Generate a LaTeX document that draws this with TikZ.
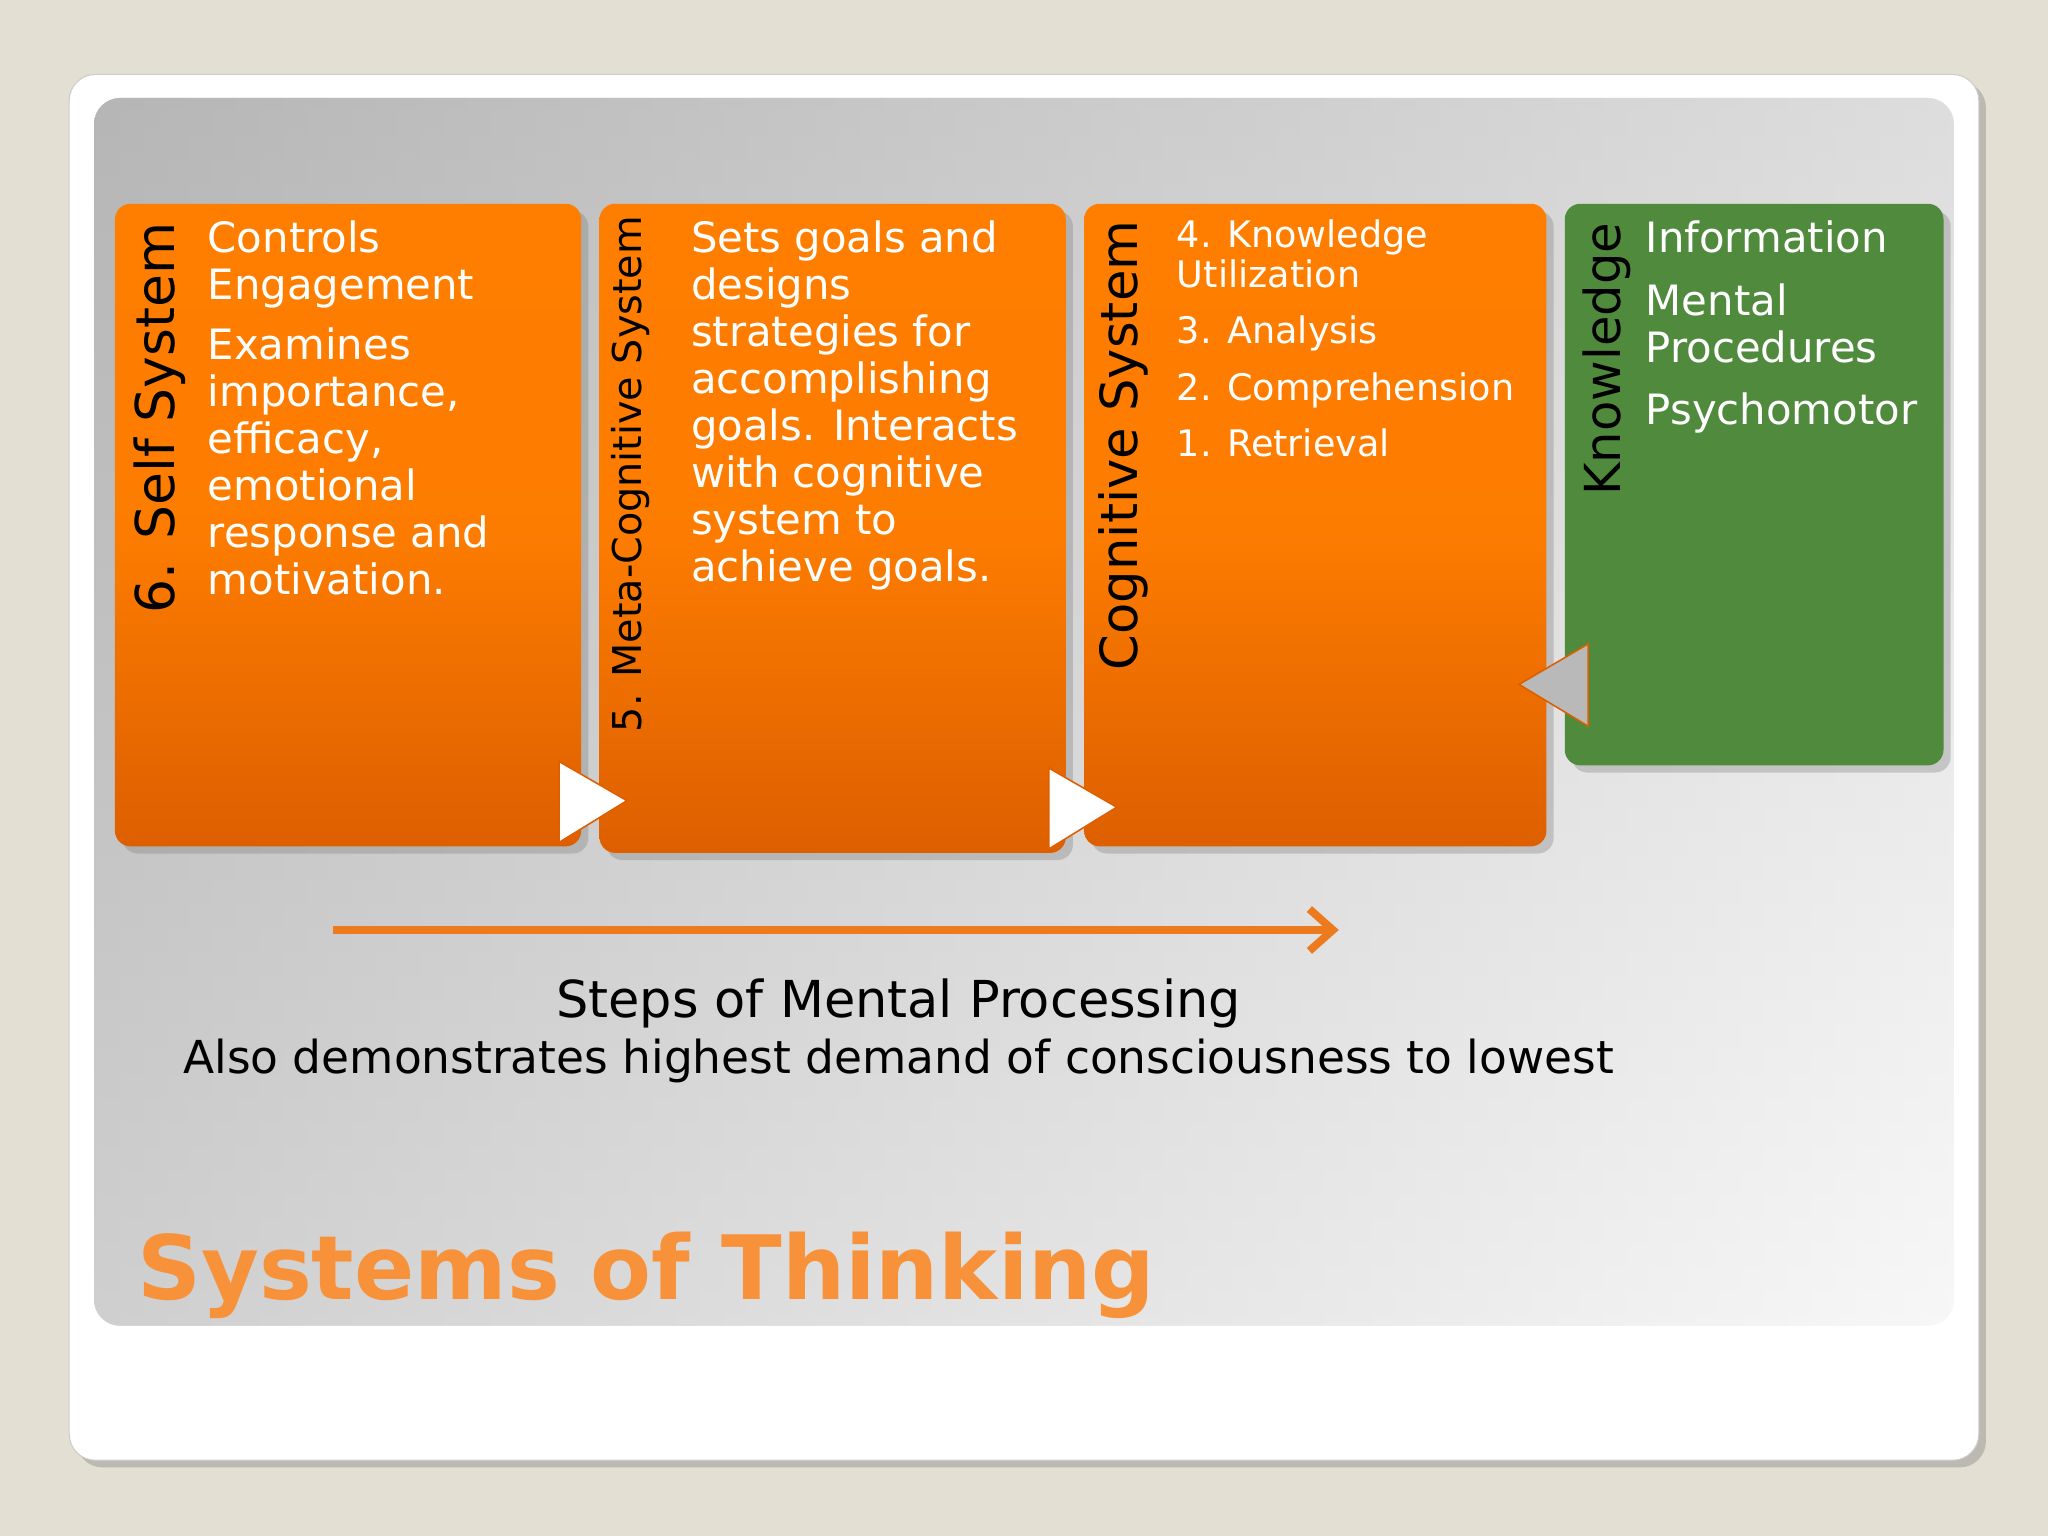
\documentclass[tikz,border=0pt]{standalone}
\usepackage{fontspec}
\setmainfont{DejaVu Sans}
\usetikzlibrary{shadows,arrows.meta}
\definecolor{bg}{HTML}{E3DFD3}
\definecolor{org}{HTML}{FF7E00}
\definecolor{orgd}{HTML}{DD5F00}
\definecolor{grn}{HTML}{4F8A3D}
\definecolor{ttl}{HTML}{F7923A}
\definecolor{arr}{HTML}{EE7A1E}
\tikzset{
 obox/.style={rounded corners=6pt,top color=org,bottom color=orgd,middle color=org!95!orgd,draw=none,drop shadow={opacity=0.35}},
 body/.style={anchor=north west,align=left,text=white,font=\fontsize{16}{18}\selectfont},
 vlab/.style={rotate=90,anchor=center},
 tri/.style={fill=white,draw=orgd,line width=0.6pt},
}
\begin{document}
\begin{tikzpicture}[x=0.5pt,y=-0.5pt]
\fill[bg] (0,0) rectangle (1568,1176);
\useasboundingbox (0,0) rectangle (1568,1176);
\node[draw=gray!40,fill=white,rounded corners=10pt,minimum width=731pt,minimum height=530.5pt,drop shadow={opacity=0.4}] (card) at (784,587.5) {};
\shade[rounded corners=10pt,left color=gray!75,right color=gray!12] (72,75) rectangle (1496,1015);
\shade[rounded corners=10pt,top color=gray!40,bottom color=white,opacity=0.5] (72,75) rectangle (1496,1015);
\node[obox,minimum width=178.5pt,minimum height=246pt] (b1) at (266.5,402) {};
\node[obox,minimum width=178.5pt,minimum height=248.5pt] (b2) at (637.5,404.5) {};
\node[obox,minimum width=177pt,minimum height=246pt] (b3) at (1007,402) {};
\node[rounded corners=6pt,fill=grn,minimum width=145pt,minimum height=215pt,drop shadow={opacity=0.35}] (b4) at (1343,371) {};
\node[vlab,font=\fontsize{20.5}{20.5}\selectfont] (l1) at (122,320) {6. Self System};
\node[vlab,font=\fontsize{15.2}{15.2}\selectfont] (l2) at (483,363) {5. Meta-Cognitive System};
\node[vlab,font=\fontsize{19.6}{19.6}\selectfont] (l3) at (860,341) {Cognitive System};
\node[vlab,font=\fontsize{19}{19}\selectfont] (l4) at (1230,275) {Knowledge};
\node[body] (t1) at (152,162) {Controls\\Engagement\\[5pt]Examines\\importance,\\efficacy,\\emotional\\response and\\motivation.};
\node[body] (t2) at (522,162) {Sets goals and\\designs\\strategies for\\accomplishing\\goals. Interacts\\with cognitive\\system to\\achieve goals.};
\node[body,font=\fontsize{14}{15.5}\selectfont] (t3) at (894,161) {4. Knowledge\\Utilization\\[6pt]3. Analysis\\[6pt]2. Comprehension\\[6pt]1. Retrieval};
\node[body] (t4) at (1253,162) {Information\\[6pt]Mental\\Procedures\\[6pt]Psychomotor};
\draw[tri] (428,583) -- (480,613) -- (428,645) -- cycle;
\draw[tri] (803,588) -- (855,618) -- (803,650) -- cycle;
\draw[tri,fill=gray!55] (1216,493) -- (1163,524) -- (1216,556) -- cycle;
\coordinate (a1) at (255,712);
\coordinate (a2) at (1025,712);
\draw[arr,line width=3pt,-{Straight Barb[length=9pt,width=16pt]}] (a1) -- (a2);
\node[font=\fontsize{19.5}{19.5}\selectfont] (s1) at (688,768) {Steps of Mental Processing};
\node[font=\fontsize{17.4}{17.4}\selectfont] (s2) at (688,812) {Also demonstrates highest demand of consciousness to lowest};
\node[anchor=base west,text=ttl,font=\bfseries\fontsize{34}{34}\selectfont] (ti) at (98,995) {Systems of Thinking};
\end{tikzpicture}
\end{document}
